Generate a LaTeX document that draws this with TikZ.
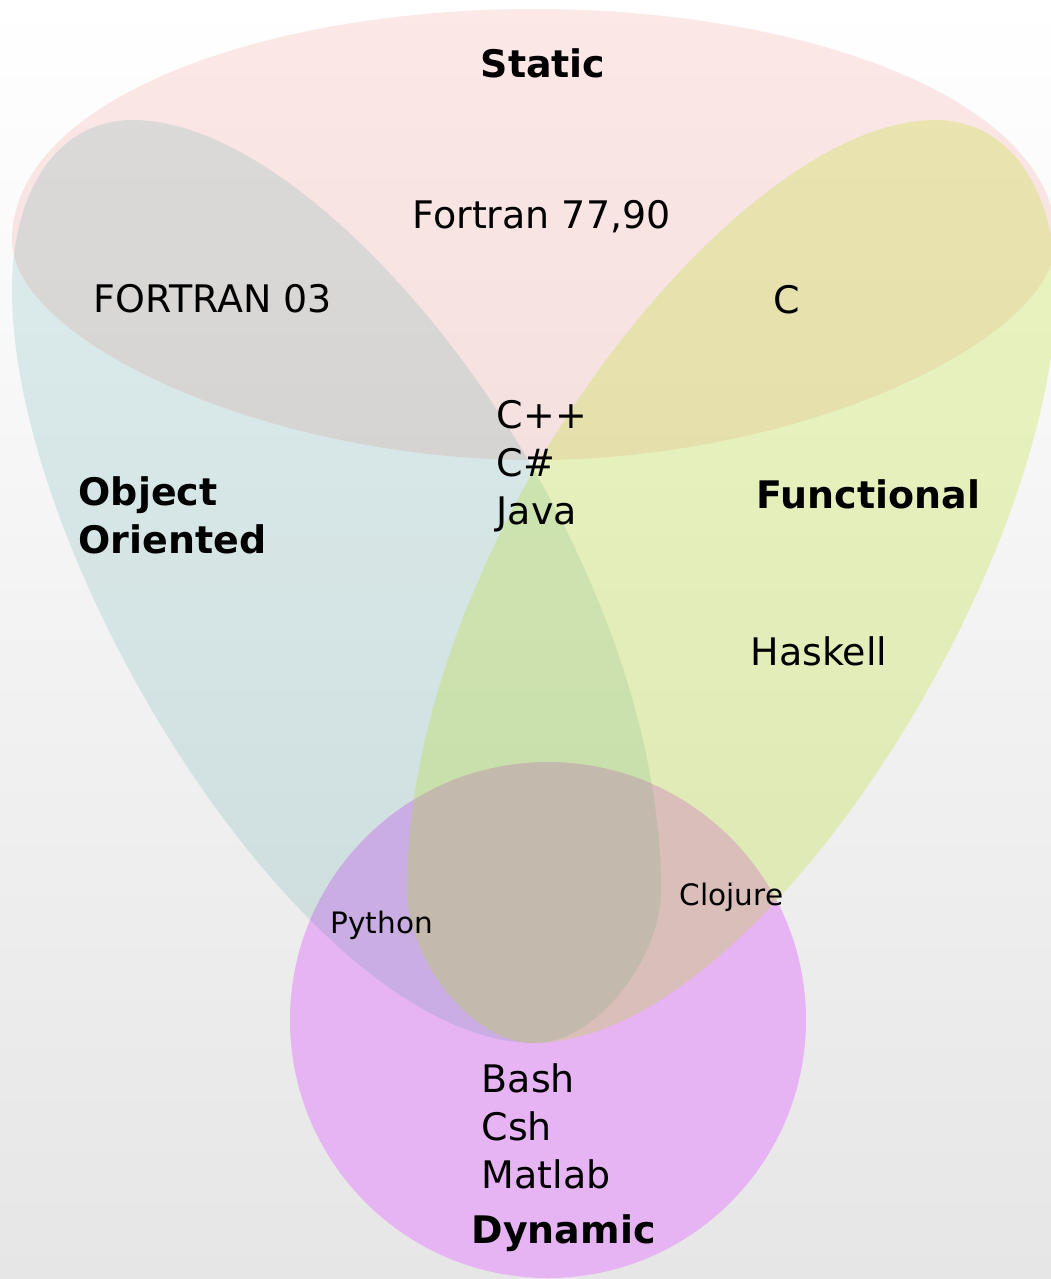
\documentclass[tikz,border=0pt]{standalone}
\usepackage{fontspec}
\setmainfont{DejaVu Sans}
\usetikzlibrary{positioning}

\definecolor{staticred}{RGB}{245,140,140}
\definecolor{ooteal}{RGB}{43,143,143}
\definecolor{funcgreen}{RGB}{180,222,5}
\definecolor{dynviolet}{RGB}{230,180,242}
\definecolor{bgbottom}{RGB}{230,230,230}

\newcommand{\leafshape}[1]{\fill[#1] (535,1043)
  .. controls (310,1043) and (12,565) .. (12,290)
  .. controls (12,190) and (58,120) .. (133,120)
  .. controls (333,120) and (661,540) .. (661,890)
  .. controls (661,960) and (595,1043) .. (535,1043) -- cycle;}

\begin{document}
\begin{tikzpicture}[x=0.1mm, y=-0.1mm,
  lang/.style={anchor=base west, inner sep=0pt, font=\fontsize{10.8}{13}\selectfont},
  paradigm/.style={lang, font=\fontsize{10.8}{13}\selectfont\bfseries},
  minor/.style={lang, font=\fontsize{8.4}{10}\selectfont}]
  \useasboundingbox (0,0) rectangle (1051,1279);
  \fill[top color=white, bottom color=bgbottom] (0,0) rectangle (1051,1279);

  \fill[dynviolet] (548,1020) circle [radius=25.8mm];
  \fill[staticred, fill opacity=0.2] (12,240) .. controls (12,100) and (262,9) .. (534,9)
    .. controls (806,9) and (1056,100) .. (1056,240)
    .. controls (1056,340) and (802,460) .. (534,460)
    .. controls (266,460) and (12,340) .. (12,240) -- cycle;
  \leafshape{ooteal, fill opacity=0.15}
  \leafshape{funcgreen, fill opacity=0.24, shift={(1068,0)}, xscale=-1}

  \node[paradigm] (static) at (480,77) {Static};
  \node[lang] (fortran_old) at (412,228) {Fortran 77,90};
  \node[lang] (fortran_new) at (93,312) {FORTRAN 03};
  \node[lang] (c) at (773,313) {C};
  \node[lang] (cpp) at (496,428) {C++};
  \node[lang, below=4.8mm of cpp.base west, anchor=base west] (csharp) {C\#};
  \node[lang, below=4.8mm of csharp.base west, anchor=base west] (java) {Java};
  \node[paradigm] (oo) at (78,505) {Object};
  \node[paradigm, below=4.8mm of oo.base west, anchor=base west] (oo_2) {Oriented};
  \node[paradigm] (functional) at (756,508) {Functional};
  \node[lang] (haskell) at (750,665) {Haskell};
  \node[minor] (python) at (330,933) {Python};
  \node[minor] (clojure) at (679,905) {Clojure};
  \node[lang] (bash) at (481,1092) {Bash};
  \node[lang, below=4.8mm of bash.base west, anchor=base west] (csh) {Csh};
  \node[lang, below=4.8mm of csh.base west, anchor=base west] (matlab) {Matlab};
  \node[paradigm] (dynamic) at (471,1243) {Dynamic};
\end{tikzpicture}
\end{document}
